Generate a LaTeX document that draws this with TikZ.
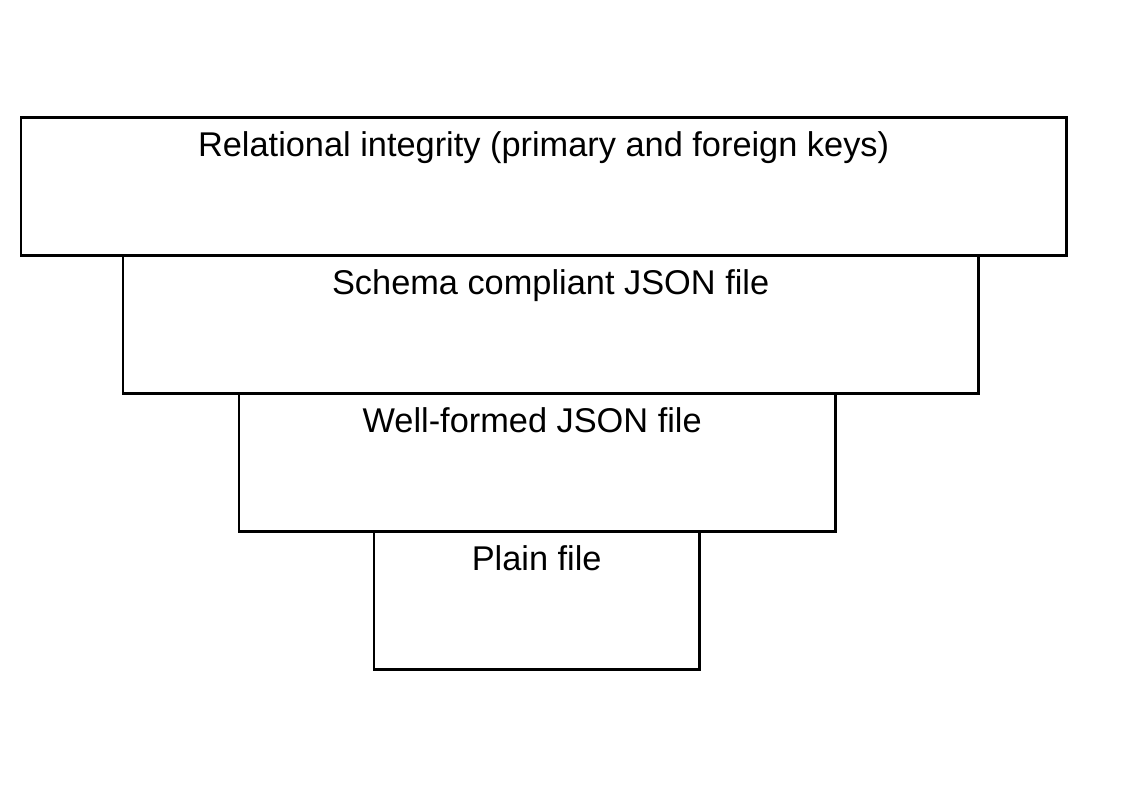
\documentclass[tikz,border=0pt]{standalone}
\usepackage{fontspec}
\setmainfont{Liberation Sans}
\usetikzlibrary{positioning,calc}

\tikzset{
  tier/.style={draw=black,line width=1.4pt,anchor=north west,inner sep=0pt,
               minimum height=2.76cm},
  tierlabel/.style={anchor=base,font=\fontsize{19.55pt}{23pt}\selectfont}
}

\begin{document}
\begin{tikzpicture}[x=0.02cm,y=-0.02cm]
\useasboundingbox (0,0) rectangle (1123,794);

% tiers, widest on top
\foreach \n/\x/\y/\w/\dx/\lab in {1/19.5/116.5/20.92/0/Relational integrity (primary and foreign keys),
                                 2/121.5/254.5/17.12/0/Schema compliant JSON file,
                                 3/237.5/392.5/11.94/-0.1/Well-formed JSON file,
                                 4/372.5/530.5/6.52/0/Plain file}{
  \node[tier,minimum width=\w cm] (tier\n) at (\x,\y) {};
  \node[tierlabel] (lab\n) at ($(tier\n.north)+(\dx cm,-0.8cm)$) {\lab};
}

\end{tikzpicture}
\end{document}
